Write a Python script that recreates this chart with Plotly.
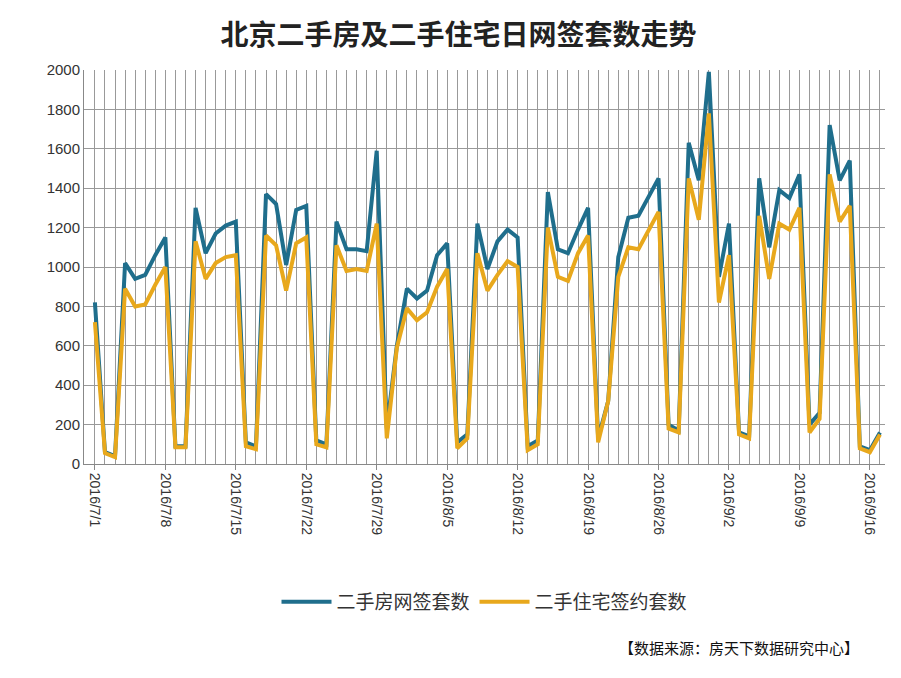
import plotly.graph_objects as go
import pandas as pd

dates = pd.date_range("2016-07-01", "2016-09-17", freq="D").strftime("%Y-%m-%d").tolist()
wangqian = [820,60,40,1020,940,960,1060,1150,90,90,1300,1070,1170,1210,1230,110,90,1370,1320,1010,1290,1310,120,100,
            1230,1090,1090,1080,1590,180,600,890,840,880,1060,1120,110,150,1220,990,1130,1190,1150,90,120,1380,1090,1070,
            1190,1300,130,320,1050,1250,1260,1350,1450,200,170,1630,1440,1990,950,1220,160,140,1450,1100,1390,1350,1470,
            200,260,1720,1440,1540,90,70,160]
zhuzhai = [720,55,35,890,800,810,910,1000,85,85,1130,940,1020,1050,1060,90,75,1160,1110,880,1120,1150,100,85,
           1110,980,990,980,1220,130,590,790,730,770,900,990,80,130,1070,880,960,1030,1000,70,100,1200,950,930,
           1070,1160,110,320,950,1100,1090,1180,1280,180,160,1450,1240,1780,820,1060,150,130,1260,940,1220,1190,1300,
           160,230,1470,1230,1310,80,60,150]

fig = go.Figure()
fig.add_trace(go.Scatter(x=dates, y=wangqian, name="二手房网签套数", mode="lines",
                         line=dict(color="#1f6e8c", width=4)))
fig.add_trace(go.Scatter(x=dates, y=zhuzhai, name="二手住宅签约套数", mode="lines",
                         line=dict(color="#e8a81c", width=4)))
fig.update_layout(
    width=901, height=678, plot_bgcolor="white", paper_bgcolor="white",
    margin=dict(l=76, r=24, t=62, b=222),
    title=dict(text="<b>北京二手房及二手住宅日网签套数走势</b>", x=0.5, xanchor="center", y=0.975,
               font=dict(family="Noto Sans CJK SC", size=28, color="#222")),
    font=dict(family="Noto Sans CJK SC", color="#333"),
    legend=dict(orientation="h", x=0.5, xanchor="center", y=-0.35, yanchor="middle",
                font=dict(size=19), itemwidth=50),
    showlegend=True,
)
fig.update_xaxes(type="date", range=["2016-06-29 22:00", "2016-09-17 12:00"],
                 tick0="2016-07-01", dtick=7*86400000, tickformat="%Y/%-m/%-d",
                 tickangle=90, tickfont=dict(size=14, family="Liberation Sans"),
                 showgrid=True, gridcolor="#999", gridwidth=1,
                 minor=dict(dtick=86400000, tick0="2016-07-01", showgrid=True, gridcolor="#999", gridwidth=1),
                 showline=True, linecolor="#888", ticks="outside", ticklen=5, tickcolor="#888",
                 zeroline=False)
fig.update_yaxes(range=[0, 2000], dtick=200, tickfont=dict(size=15, family="Liberation Sans"),
                 showgrid=True, gridcolor="#999", showline=True, linecolor="#888", zeroline=False)
fig.add_annotation(text="【数据来源：房天下数据研究中心】", xref="paper", yref="paper",
                   x=0.97, y=-0.465, xanchor="right", yanchor="middle", showarrow=False,
                   font=dict(size=15, color="#111"))
fig.write_html("out.html")
